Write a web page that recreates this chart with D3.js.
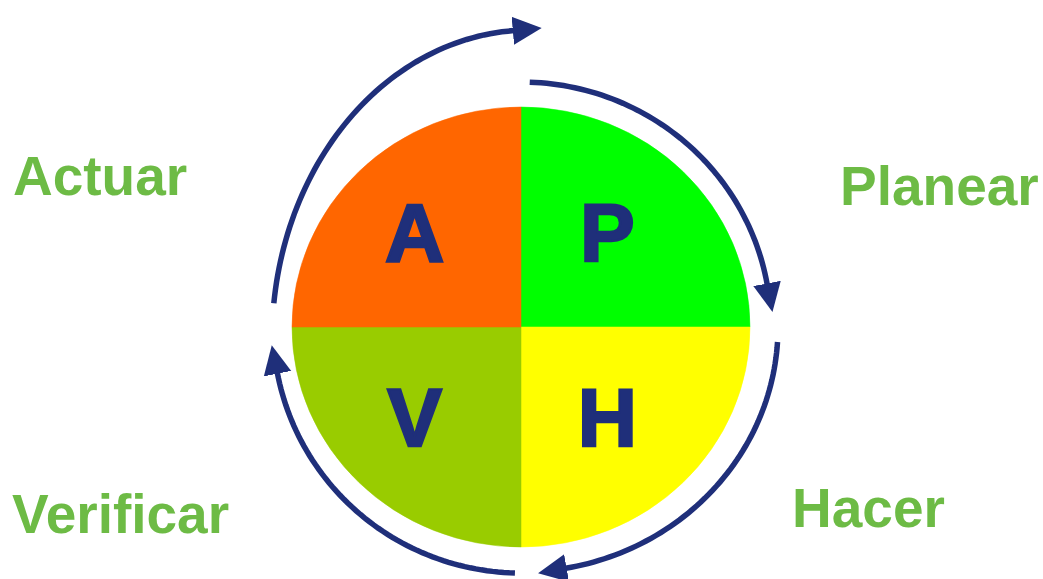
<!DOCTYPE html>
<html>
<head>
<meta charset="utf-8">
<script src="https://cdn.jsdelivr.net/npm/d3@7"></script>
<style>
  body { margin: 0; background: #fff; }
  svg { display: block; }
  .letter { font-family: "Liberation Sans", Arial, sans-serif; font-weight: bold; fill: #1f2f7a; stroke: #1f2f7a; stroke-width: 2.5; }
  .phase { font-family: "Liberation Sans", Arial, sans-serif; font-weight: bold; fill: #6dbb45; }
</style>
</head>
<body>
<div id="chart"></div>
<script>
// ciclo PHVA: cuadrantes en sentido horario desde arriba
const letters = ['P', 'H', 'V', 'A'];
const phases = ['Planear', 'Hacer', 'Verificar', 'Actuar'];
const shares = [1, 1, 1, 1];
const colors = ['#00ff00', '#ffff00', '#99cc00', '#ff6600'];

const width = 1043, height = 579;
const cx = 521, cy = 327;
const ry = 220, rx = 229;

// posiciones de las etiquetas de fase (esquina inferior izquierda del texto)
const phasePos = [[840, 205], [792, 527], [12, 533], [13, 195]];

// flechas: elipse (centro, radios) y ángulos en grados, sentido horario
const arrows = [
  { cx: 521, cy: 327, rx: 250, ry: 245, a0: 88, a1: 10 },
  { cx: 521, cy: 327, rx: 257, ry: 245, a0: -3.5, a1: -80 },
  { cx: 521, cy: 327, rx: 248, ry: 246, a0: 268.6, a1: 190.7 },
  { cx: 530, cy: 340, rx: 258, ry: 310, a0: 173.2, a1: 93.6 }
];

const svg = d3.select('#chart').append('svg')
  .attr('width', width)
  .attr('height', height);

svg.append('defs').append('marker')
  .attr('id', 'head')
  .attr('markerUnits', 'userSpaceOnUse')
  .attr('markerWidth', 32).attr('markerHeight', 32)
  .attr('viewBox', '0 -16 32 32')
  .attr('refX', 1).attr('refY', 0)
  .attr('orient', 'auto')
  .append('path')
  .attr('d', 'M0,-14L29,0L0,14Z')
  .attr('fill', '#1f2f7a');

// pastel de cuatro partes iguales, estirado un poco en horizontal
const pie = d3.pie().value(d => d).sort(null);
const arc = d3.arc().innerRadius(0).outerRadius(ry);
const labelArc = d3.arc().innerRadius(131).outerRadius(131);

const g = svg.append('g')
  .attr('transform', `translate(${cx},${cy}) scale(${rx / ry},1)`);

g.selectAll('.slice')
  .data(pie(shares))
  .enter()
  .append('path')
  .attr('class', 'slice')
  .attr('d', arc)
  .attr('fill', (d, i) => colors[i])
  .attr('stroke', (d, i) => colors[i])
  .attr('stroke-width', 0.5);

svg.append('g')
  .attr('transform', `translate(${cx - 10},${cy - 3})`)
  .selectAll('.letter')
  .data(pie(shares))
  .enter()
  .append('text')
  .attr('class', 'letter')
  .attr('x', d => labelArc.centroid(d)[0] * rx / ry)
  .attr('y', d => labelArc.centroid(d)[1])
  .attr('dy', '0.36em')
  .attr('text-anchor', 'middle')
  .attr('font-size', 82)
  .text((d, i) => letters[i]);

// flechas curvas alrededor del círculo
const rad = Math.PI / 180;
const line = d3.line().curve(d3.curveLinear);
arrows.forEach(a => {
  const pts = d3.range(0, 1.0001, 1 / 60).map(t => {
    const th = (a.a0 + (a.a1 - a.a0) * t) * rad;
    return [a.cx + a.rx * Math.cos(th), a.cy - a.ry * Math.sin(th)];
  });
  svg.append('path')
    .attr('d', line(pts))
    .attr('fill', 'none')
    .attr('stroke', '#1f2f7a')
    .attr('stroke-width', 5.5)
    .attr('marker-end', 'url(#head)');
});

svg.selectAll('.phase')
  .data(phases)
  .enter()
  .append('text')
  .attr('class', 'phase')
  .attr('x', (d, i) => phasePos[i][0])
  .attr('y', (d, i) => phasePos[i][1])
  .attr('font-size', 55)
  .text(d => d);
</script>
</body>
</html>
